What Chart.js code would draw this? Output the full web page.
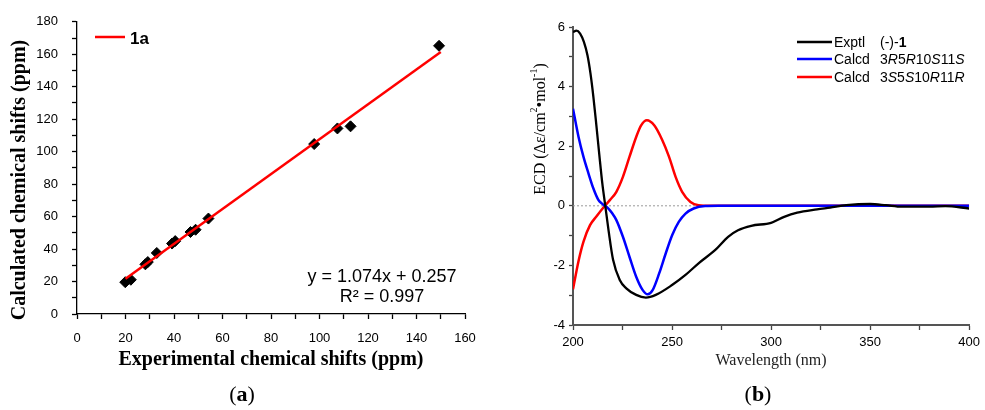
<!DOCTYPE html>
<html>
<head>
<meta charset="utf-8">
<script src="https://cdn.jsdelivr.net/npm/chart.js@4.4.0/dist/chart.umd.min.js"></script>
<style>
body { margin:0; background:#fff; width:985px; height:410px; overflow:hidden; position:relative; }
canvas { position:absolute; top:0; }
#chartA { left:0; }
#chartB { left:500px; }
</style>
</head>
<body>
<canvas id="chartA" width="490" height="410"></canvas>
<canvas id="chartB" width="485" height="410"></canvas>
<script>
// (a) chemical shifts
const expShifts  = [19.9, 22.2, 28.2, 29.2, 32.9, 39.2, 40.5, 46.8, 48.9, 54.2, 97.8, 107.4, 112.8, 149.3];
const calcShifts = [19.6, 21.1, 30.6, 32.0, 37.6, 43.4, 44.9, 50.5, 51.9, 58.8, 104.7, 114.3, 115.6, 165.2];
const fitX = [20, 150];
const fitY = [21.7, 161.4];

// (b) ECD spectra
const wlExptl  = [200, 201.7, 203.6, 205.5, 207.3, 208.8, 210.3, 211.8, 213.3, 214.8, 216.3, 218, 220.2, 223.6, 226.9, 231.9, 236.8, 241.8, 250, 256.8, 263.4, 271.7, 278.3, 283.3, 290, 300, 306.6, 313.2, 323.2, 329.8, 338, 350, 358, 366, 380, 388, 400];
const ecdExptl = [5.83, 5.88, 5.78, 5.5, 5.05, 4.45, 3.65, 2.7, 1.7, 0.75, 0, -0.85, -1.8, -2.49, -2.77, -2.99, -3.08, -2.99, -2.66, -2.32, -1.93, -1.49, -1.04, -0.82, -0.67, -0.57, -0.37, -0.23, -0.12, -0.06, 0.02, 0.06, 0.02, -0.03, -0.03, -0.01, -0.09];
const wlRS  = [200, 202.8, 205.3, 207.8, 210.3, 212.8, 214.5, 216.1, 218, 219.8, 221.9, 225.2, 228.5, 231.9, 235.2, 237.7, 240.2, 243.5, 246.8, 250.1, 253.4, 256.8, 260.9, 266.7, 273.4, 400];
const ecdRS = [3.26, 2.31, 1.64, 1.09, 0.58, 0.2, 0.08, 0, -0.1, -0.25, -0.48, -1.04, -1.71, -2.38, -2.83, -2.97, -2.83, -2.27, -1.60, -0.98, -0.54, -0.26, -0.09, -0.01, 0, 0];
const wlSR  = [200, 202.8, 205.3, 208.6, 211.9, 216.1, 218.6, 221.9, 225.2, 228.5, 231.9, 234.4, 237.3, 241, 245.1, 248.5, 251.8, 255.1, 259.3, 263.4, 270, 400];
const ecdSR = [-2.80, -1.85, -1.2, -0.65, -0.35, 0, 0.19, 0.47, 0.97, 1.64, 2.31, 2.70, 2.87, 2.70, 2.2, 1.64, 0.97, 0.47, 0.13, 0.02, 0, 0];
const zeroX = [200, 400];
const zeroY = [0, 0];

const SANS = '"Liberation Sans", Arial, sans-serif';
const SERIF = '"Liberation Serif", "Times New Roman", serif';

function pts(xs, ys) { return xs.map((x, i) => ({ x: x, y: ys[i] })); }

// draws a row of text pieces [text, font, rise]
function drawParts(ctx, x, y, parts, align) {
  let total = 0;
  parts.forEach(p => { ctx.font = p[1]; total += ctx.measureText(p[0]).width; });
  let cx = align === 'center' ? x - total / 2 : x;
  ctx.textAlign = 'left';
  ctx.textBaseline = 'middle';
  parts.forEach(p => {
    ctx.font = p[1];
    ctx.fillText(p[0], cx, y - (p[2] || 0));
    cx += ctx.measureText(p[0]).width;
  });
}

const textA = {
  id: 'textA',
  afterDraw(chart) {
    const ctx = chart.ctx;
    ctx.save();
    ctx.fillStyle = '#000';
    ctx.save();
    ctx.translate(20, 180);
    ctx.rotate(-Math.PI / 2);
    drawParts(ctx, 0, 0, [['Calculated chemical shifts (ppm)', 'bold 20px ' + SERIF]], 'center');
    ctx.restore();
    // legend
    ctx.strokeStyle = '#ff0000';
    ctx.lineWidth = 2.5;
    ctx.beginPath(); ctx.moveTo(95, 37); ctx.lineTo(125, 37); ctx.stroke();
    drawParts(ctx, 130, 39, [['1a', 'bold 17px ' + SANS]]);
    // equation
    drawParts(ctx, 382, 277, [['y = 1.074x + 0.257', '18px ' + SANS]], 'center');
    drawParts(ctx, 382, 297, [['R² = 0.997', '18px ' + SANS]], 'center');
    drawParts(ctx, 242, 395, [['(', '22px ' + SERIF], ['a', 'bold 22px ' + SERIF], [')', '22px ' + SERIF]], 'center');
    ctx.restore();
  }
};

const textB = {
  id: 'textB',
  afterDraw(chart) {
    const ctx = chart.ctx;
    ctx.save();
    ctx.fillStyle = '#000';
    ctx.save();
    ctx.translate(41, 129);
    ctx.rotate(-Math.PI / 2);
    const f = '16px ' + SERIF, s = '10px ' + SERIF;
    drawParts(ctx, 0, 0, [['ECD (Δε/cm', f], ['2', s, 7], ['•mol', f], ['-1', s, 7], [')', f]], 'center');
    ctx.restore();
    // legend
    const rows = [
      ['#000000', 'Exptl', [['(-)-', '14px ' + SANS], ['1', 'bold 14px ' + SANS]]],
      ['#0000ff', 'Calcd', [['3', '14px ' + SANS], ['R', 'italic 14px ' + SANS], ['5', '14px ' + SANS], ['R', 'italic 14px ' + SANS], ['10', '14px ' + SANS], ['S', 'italic 14px ' + SANS], ['11', '14px ' + SANS], ['S', 'italic 14px ' + SANS]]],
      ['#ff0000', 'Calcd', [['3', '14px ' + SANS], ['S', 'italic 14px ' + SANS], ['5', '14px ' + SANS], ['S', 'italic 14px ' + SANS], ['10', '14px ' + SANS], ['R', 'italic 14px ' + SANS], ['11', '14px ' + SANS], ['R', 'italic 14px ' + SANS]]]
    ];
    const ys = [42, 59, 77];
    rows.forEach((r, i) => {
      ctx.strokeStyle = r[0];
      ctx.lineWidth = 2.5;
      ctx.beginPath(); ctx.moveTo(297, ys[i]); ctx.lineTo(332, ys[i]); ctx.stroke();
      drawParts(ctx, 334, ys[i] + 1, [[r[1], '14px ' + SANS]]);
      drawParts(ctx, 380, ys[i] + 1, r[2]);
    });
    drawParts(ctx, 258, 395, [['(', '22px ' + SERIF], ['b', 'bold 22px ' + SERIF], [')', '22px ' + SERIF]], 'center');
    ctx.restore();
  }
};

new Chart(document.getElementById('chartA'), {
  type: 'scatter',
  data: {
    datasets: [{
      label: '1a',
      data: pts(fitX, fitY),
      showLine: true,
      borderColor: '#ff0000',
      borderWidth: 2.5,
      pointRadius: 0,
      order: 0
    },
    {
      label: 'shifts',
      data: pts(expShifts, calcShifts),
      pointStyle: 'rectRot',
      pointRadius: 5.5,
      backgroundColor: '#000',
      borderColor: '#000',
      order: 1
    }]
  },
  options: {
    responsive: false,
    animation: false,
    layout: { padding: { top: 20, right: 25, bottom: 30, left: 0 } },
    plugins: { legend: { display: false }, tooltip: { enabled: false } },
    scales: {
      x: {
        type: 'linear', min: 0, max: 160,
        ticks: { stepSize: 10, autoSkip: false, maxRotation: 0, padding: 12, color: '#000',
          font: { family: SANS, size: 13 }, callback: v => v % 20 === 0 ? v : '' },
        grid: { drawOnChartArea: false, tickLength: 5, color: '#000', tickWidth: 1.3 },
        border: { color: '#000', width: 1.3 },
        title: { display: true, text: 'Experimental chemical shifts (ppm)', color: '#000',
          font: { family: SERIF, size: 20, weight: 'bold' }, padding: { top: 0, bottom: 8 } },
        afterFit: s => { s.height = 66; }
      },
      y: {
        type: 'linear', min: 0, max: 180,
        ticks: { stepSize: 10, autoSkip: false, padding: 14, color: '#000',
          font: { family: SANS, size: 13 }, callback: v => v % 20 === 0 ? v : '' },
        grid: { drawOnChartArea: false, tickLength: 5, color: '#000', tickWidth: 1.3 },
        border: { color: '#000', width: 1.3 },
        afterFit: s => { s.width = 77; }
      }
    }
  },
  plugins: [textA]
});

new Chart(document.getElementById('chartB'), {
  type: 'line',
  data: {
    datasets: [{
      label: 'zero',
      data: pts(zeroX, zeroY),
      borderColor: '#9a9a9a',
      borderWidth: 1,
      borderDash: [2, 2],
      pointRadius: 0,
      order: 3
    },
    {
      label: 'Calcd 3S5S10R11R',
      data: pts(wlSR, ecdSR),
      borderColor: '#ff0000',
      borderWidth: 2.5,
      pointRadius: 0,
      cubicInterpolationMode: 'monotone',
      order: 2
    },
    {
      label: 'Calcd 3R5R10S11S',
      data: pts(wlRS, ecdRS),
      borderColor: '#0000ff',
      borderWidth: 2.5,
      pointRadius: 0,
      cubicInterpolationMode: 'monotone',
      order: 1
    },
    {
      label: 'Exptl (-)-1',
      data: pts(wlExptl, ecdExptl),
      borderColor: '#000000',
      borderWidth: 2.3,
      pointRadius: 0,
      cubicInterpolationMode: 'monotone',
      order: 0
    }]
  },
  options: {
    responsive: false,
    animation: false,
    layout: { padding: { top: 27, right: 11, bottom: 30, left: 0 } },
    plugins: { legend: { display: false }, tooltip: { enabled: false } },
    scales: {
      x: {
        type: 'linear', min: 200, max: 400,
        ticks: { stepSize: 25, autoSkip: false, maxRotation: 0, padding: 5, color: '#000',
          font: { family: SANS, size: 13 }, callback: v => v % 50 === 0 ? v : '' },
        grid: { drawOnChartArea: false, tickLength: 5, color: '#444', tickWidth: 1.3 },
        border: { color: '#555', width: 2 },
        title: { display: true, text: 'Wavelength (nm)', color: '#222',
          font: { family: SERIF, size: 16 }, padding: { top: 0, bottom: 10 } },
        afterFit: s => { s.height = 55; }
      },
      y: {
        type: 'linear', min: -4, max: 6,
        ticks: { stepSize: 1, autoSkip: false, padding: 4, color: '#000',
          font: { family: SANS, size: 13 }, callback: v => v % 2 === 0 ? v : '' },
        grid: { drawOnChartArea: false, tickLength: 4, color: '#444', tickWidth: 1.3 },
        border: { color: '#555', width: 2 },
        afterFit: s => { s.width = 73; }
      }
    }
  },
  plugins: [textB]
});
</script>
</body>
</html>
